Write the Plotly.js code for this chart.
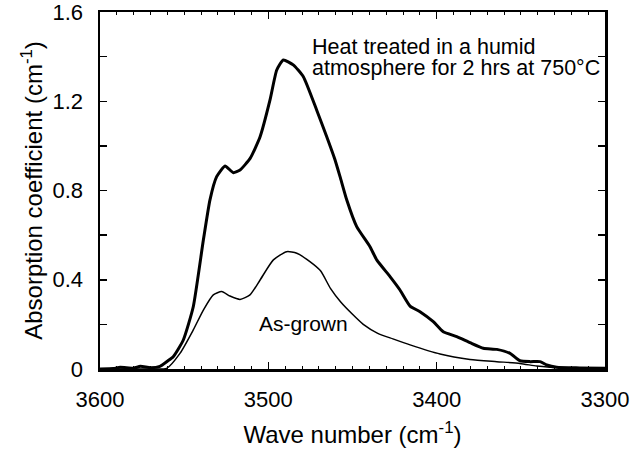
<!DOCTYPE html>
<html>
<head>
<meta charset="utf-8">
<script src="https://cdn.plot.ly/plotly-3.0.1.min.js"></script>
<style>html,body{margin:0;padding:0;background:#fff;}#chart{width:634px;height:455px;}</style>
</head>
<body>
<div id="chart"></div>
<script>
// Heat treated (humid atmosphere, 2 hrs at 750°C)
const heatX = [3600, 3592, 3588, 3580, 3576, 3570, 3564.4, 3560, 3556.5, 3550.5, 3544.6, 3538.6, 3534.7, 3530.7, 3525.7, 3520.8, 3516.8, 3510.8, 3504.9, 3499.0, 3495.0, 3491.1, 3485.2, 3479.2, 3471.3, 3465.3, 3460.5, 3457.4, 3453.4, 3447.5, 3439.6, 3435.6, 3427.7, 3421.8, 3415.8, 3409.9, 3402.0, 3396.1, 3388.1, 3380.2, 3372.3, 3364.3, 3356.4, 3350.5, 3344.5, 3338.6, 3334.6, 3328.7, 3315, 3300];
const heatY = [0.0, 0.002, 0.008, 0.004, 0.012, 0.006, 0.012, 0.035, 0.055, 0.130, 0.279, 0.578, 0.757, 0.862, 0.910, 0.880, 0.892, 0.944, 1.041, 1.206, 1.340, 1.385, 1.363, 1.310, 1.161, 1.041, 0.94, 0.862, 0.757, 0.638, 0.548, 0.489, 0.414, 0.354, 0.282, 0.257, 0.212, 0.167, 0.145, 0.118, 0.093, 0.088, 0.070, 0.037, 0.033, 0.033, 0.018, 0.008, 0.005, 0.003];
// As-grown
const grownX = [3600, 3570, 3560.4, 3552.5, 3544.6, 3538.6, 3532.7, 3527.7, 3522.8, 3516.8, 3510.9, 3504.9, 3497.0, 3489.1, 3483.1, 3475.3, 3469, 3463, 3457, 3450, 3443.6, 3435, 3426, 3415.8, 3398.0, 3380.2, 3364.3, 3350.5, 3340.6, 3332.7, 3315, 3300];
const grownY = [0.0, 0.0, 0.003, 0.07, 0.175, 0.264, 0.332, 0.347, 0.327, 0.312, 0.332, 0.399, 0.489, 0.526, 0.519, 0.481, 0.44, 0.36, 0.3, 0.245, 0.2, 0.16, 0.135, 0.108, 0.067, 0.043, 0.033, 0.025, 0.013, 0.008, 0.003, 0.002];

const xTicks = [3600, 3500, 3400, 3300];
const yTicks = [0, 0.4, 0.8, 1.2, 1.6];
const yTickText = ['0', '0.4', '0.8', '1.2', '1.6'];
const labelLine1 = 'Heat treated in a humid';
const labelLine2 = 'atmosphere for 2 hrs at 750°C';
const labelGrown = 'As-grown';

const font = 'Liberation Sans, Arial, Helvetica, sans-serif';

const traces = [
  {x: heatX, y: heatY, mode: 'lines', line: {color: '#000', width: 3, shape: 'spline', smoothing: 0.5}, hoverinfo: 'skip'},
  {x: grownX, y: grownY, mode: 'lines', line: {color: '#000', width: 1.5, shape: 'spline', smoothing: 0.6}, hoverinfo: 'skip'}
];

const layout = {
  width: 634, height: 455,
  margin: {l: 100, r: 29, t: 12, b: 86},
  paper_bgcolor: '#fff', plot_bgcolor: '#fff',
  showlegend: false,
  font: {family: font, color: '#000', size: 22},
  xaxis: {
    range: [3600, 3300], autorange: false,
    tickmode: 'array', tickvals: xTicks, ticktext: xTicks.map(String),
    ticks: 'inside', ticklen: 7, tickwidth: 1.5, tickcolor: '#000',
    minor: {dtick: 10, ticks: 'inside', ticklen: 3, tickwidth: 1, tickcolor: '#000', showgrid: false},
    showline: true, linewidth: 2.5, linecolor: '#000', mirror: 'ticks',
    showgrid: false, zeroline: false,
    ticklabelstandoff: 9, ticklabeloverflow: 'allow',
    tickfont: {size: 22, family: font},
    title: {text: 'Wave number (cm<sup>-1</sup>)', font: {size: 24, family: font}, standoff: 16}
  },
  yaxis: {
    range: [0, 1.6], autorange: false,
    tickmode: 'array', tickvals: yTicks, ticktext: yTickText,
    ticks: 'inside', ticklen: 7, tickwidth: 1.5, tickcolor: '#000',
    minor: {dtick: 0.2, ticks: 'inside', ticklen: 7, tickwidth: 1.5, tickcolor: '#000', showgrid: false},
    showline: true, linewidth: 2.5, linecolor: '#000', mirror: 'ticks',
    showgrid: false, zeroline: false,
    ticklabelstandoff: 10, ticklabeloverflow: 'allow',
    tickfont: {size: 22, family: font},
    title: {text: 'Absorption coefficient (cm<sup>-1</sup>)', font: {size: 24, family: font}, standoff: 3}
  },
  annotations: [
    {x: 3475.3, y: 1.443, xref: 'x', yref: 'y', xanchor: 'left', yanchor: 'middle', showarrow: false,
     text: labelLine1, font: {size: 21.5, family: font, color: '#000'}},
    {x: 3475.3, y: 1.349, xref: 'x', yref: 'y', xanchor: 'left', yanchor: 'middle', showarrow: false,
     text: labelLine2, font: {size: 21.5, family: font, color: '#000'}},
    {x: 3479.4, y: 0.206, xref: 'x', yref: 'y', xanchor: 'center', yanchor: 'middle', showarrow: false,
     text: labelGrown, font: {size: 21, family: font, color: '#000'}}
  ]
};

Plotly.newPlot('chart', traces, layout, {staticPlot: true, displayModeBar: false});
</script>
</body>
</html>
